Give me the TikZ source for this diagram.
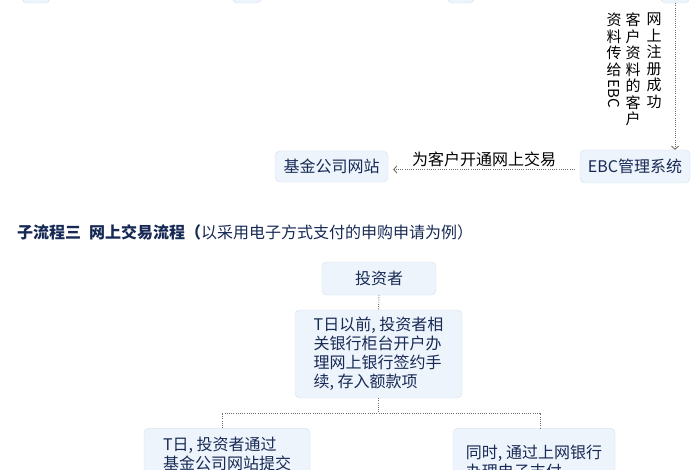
\documentclass[tikz,border=0pt]{standalone}
\usepackage{fontspec}
\setmainfont{Noto Sans CJK SC}
\usetikzlibrary{arrows.meta}
\definecolor{boxfill}{HTML}{EEF4FB}
\definecolor{boxline}{HTML}{D3DEEB}
\definecolor{boxtext}{HTML}{172A55}
\definecolor{dotline}{HTML}{6E6E6E}
\tikzset{
  flowbox/.style={draw=boxline,fill=boxfill,rounded corners=5pt,text=boxtext,
    inner sep=0pt,font=\fontsize{16}{19}\selectfont},
  vtext/.style={align=center,inner sep=0pt,text=black,
    font=\fontsize{15}{16.5}\selectfont},
  dotlink/.style={draw=dotline,line width=0.9pt,dash pattern=on 0.9pt off 1.3pt},
  barb/.style={-{Straight Barb[length=3pt,width=7pt]}}
}
\begin{document}
\begin{tikzpicture}[x=1pt,y=-1pt]
        \useasboundingbox (0,0) rectangle (700,470);
        \clip (0,0) rectangle (700,470);
        % Draw boxes cut by the top edge
        \foreach \x/\w [count=\i] in {36/28, 247/29, 461/27, 675/29}
        \node[flowbox,minimum width=\w pt,minimum height=30pt] (top\i) at (\x,-12) {};
        % Draw EBC and web site
        \node[flowbox,minimum width=110pt,minimum height=33pt] (ebc) at (635,166.5) {EBC管理系统};
        \node[flowbox,minimum width=113pt,minimum height=31pt] (site) at (331.5,166.5) {基金公司网站};
        \draw[dotlink,barb] (top4.south) -- (top4.south |- ebc.north);
        \node[vtext,anchor=north] (note1) at (654,13) {网\\上\\注\\册\\成\\功};
        \node[vtext,anchor=north] (note2) at (633,13) {客\\户\\资\\料\\的\\客\\户};
        \node[vtext,anchor=north] (note3) at (614,13) {资\\料\\传\\给\\\raisebox{12pt}{\rotatebox{-90}{EBC}}};
        \draw[dotlink,barb,shorten <=5pt,shorten >=5pt] ([yshift=-3pt]ebc.west) -- ([yshift=-3pt]site.east)
        node[midway,above=2pt,inner sep=0pt,text=black,font=\fontsize{16}{19}\selectfont] (open) {为客户开通网上交易};
        % Sub-process three
        \node[anchor=west,inner sep=0pt,text=boxtext,font=\fontsize{16}{19}\selectfont] (title) at (17,232)
        {\textbf{子流程三\hspace{0.5em}网上交易流程（}以采用电子方式支付的申购申请为例）};
        \node[flowbox,minimum width=114pt,minimum height=33pt] (investor) at (379,278.5) {投资者};
        \node[flowbox,minimum width=167pt,minimum height=88pt,align=left] (bank) at (378.5,354)
        {T日以前, 投资者相\\关银行柜台开户办\\理网上银行签约手\\续, 存入额款项};
        \node[flowbox,anchor=north,minimum width=166pt,inner ysep=9pt,align=left] (web) at (227,428)
        {T日, 投资者通过\\基金公司网站提交};
        \node[flowbox,anchor=north,minimum width=162pt,inner ysep=17pt,align=left] (pay) at (534,428)
        {同时, 通过上网银行\\办理电子支付};
        % Draw dotted links
        \coordinate (fork) at (378.5,413);
        \coordinate (forkl) at (222,413);
        \coordinate (forkr) at (540,413);
        \draw[dotlink] (investor.south) -- (bank.north);
        \draw[dotlink] (bank.south) -- (fork);
        \draw[dotlink] (forkl |- web.north) -- (forkl) -- (forkr) -- (forkr |- pay.north);
    \end{tikzpicture}
\end{document}
